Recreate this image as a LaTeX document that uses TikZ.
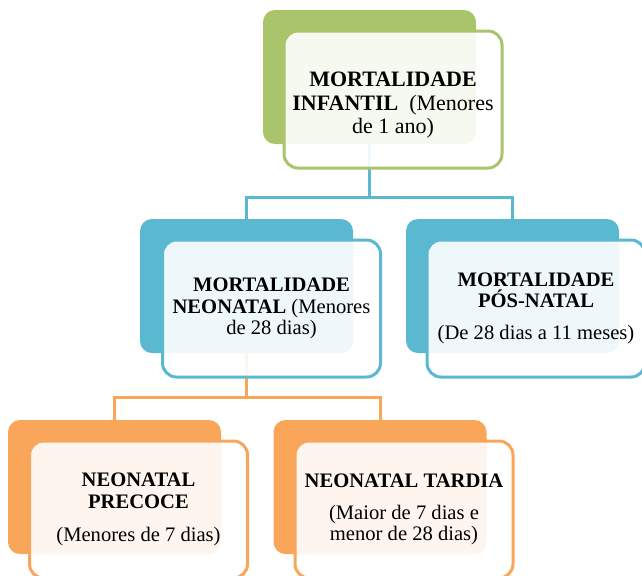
\documentclass[tikz,border=0pt]{standalone}
\usepackage{fontspec}
\setmainfont{Liberation Serif}
\usepackage{xcolor}
\usetikzlibrary{calc}

\definecolor{grn}{RGB}{169,196,106}
\definecolor{blu}{RGB}{91,184,209}
\definecolor{org}{RGB}{250,166,90}

\begin{document}
\begin{tikzpicture}[x=0.5pt, y=-0.5pt,
  back/.style={rectangle, rounded corners=6pt, fill=#1, minimum width=106.5pt, minimum height=67pt, inner sep=0pt},
  front/.style={rectangle, rounded corners=7pt, draw=#1, line width=1.5pt, fill=white, fill opacity=0.9, text opacity=1, minimum width=109pt, minimum height=68.5pt, inner sep=2pt, align=center, font=\fontsize{10.3}{10.6}\selectfont},
  link/.style={draw=#1, line width=1.5pt}]
\useasboundingbox (0,0) rectangle (642,575);
% back boxes
\node[back=grn] (infb) at (369.5,77) {};
\node[back=blu] (neob) at (246.5,286) {};
\node[back=blu] (posb) at (512.5,286) {};
\node[back=org] (preb) at (114.5,487) {};
\node[back=org] (tarb) at (380,487) {};
% connectors
\draw[link=blu] (infb.south) -- ++(0,53) -| (neob.north);
\draw[link=blu] (infb.south) -- ++(0,53) -| (posb.north);
\draw[link=org] (neob.south) -- ++(0,44) -| (preb.north);
\draw[link=org] (neob.south) -- ++(0,44) -| (tarb.north);
% front boxes
\node[front=grn, font=\fontsize{11}{11.6}\selectfont] (inf) at (393,99.5) {\rule{0pt}{13pt}\textbf{MORTALIDADE}\\\textbf{INFANTIL}\ \ (Menores\\de 1 ano)};
\node[front=blu] (neo) at (271.5,308.5) {\textbf{MORTALIDADE}\\\textbf{NEONATAL} (Menores\\de 28 dias)};
\node[front=blu] (pos) at (536,308.5) {\textbf{MORTALIDADE}\\\textbf{PÓS-NATAL}\\[5.5pt](De 28 dias a 11 meses)};
\node[front=org] (pre) at (138.5,509.5) {\textbf{NEONATAL}\\\textbf{PRECOCE}\\[6pt](Menores de 7 dias)};
\node[front=org] (tar) at (404,509.5) {\textbf{NEONATAL TARDIA}\\[5.5pt](Maior de 7 dias e\\menor de 28 dias)};
\end{tikzpicture}
\end{document}
